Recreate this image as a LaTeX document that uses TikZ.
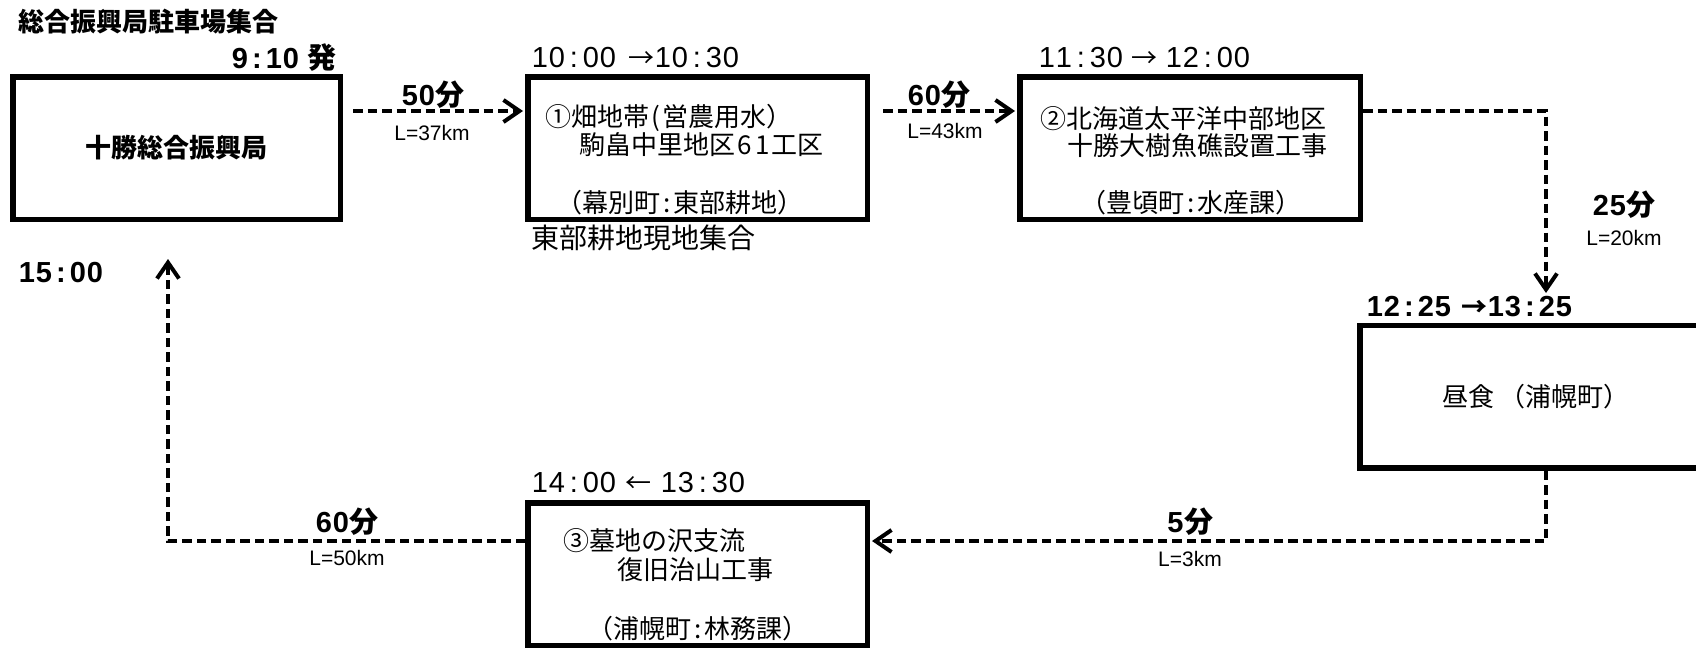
\documentclass[tikz,border=0pt]{standalone}
\usepackage{fontspec}
\setmainfont{Noto Sans CJK JP}
\newfontfamily\cjk{Noto Sans CJK JP}
\newfontfamily\lat{Liberation Sans}
\usetikzlibrary{arrows.meta}
\makeatletter
\newcommand\cellrow[2]{\@tfor\rsk@c:=#2\do{\makebox[#1][c]{\rsk@c}}}
\makeatother
\newcommand\tm[1]{\cellrow{8.5pt}{#1}}
\newcommand\ra{{\cjk\fontsize{13pt}{15pt}\selectfont →}}
\newcommand\la{{\cjk\fontsize{13pt}{15pt}\selectfont ←}}
\newcommand\km[1]{{\lat\fontsize{10.5pt}{12pt}\selectfont #1}}
\tikzset{
 box/.style={draw, line width=2.75pt, rectangle, inner sep=0pt},
 conn/.style={line width=1.65pt, dash pattern=on 4.75pt off 2.5pt,
   -{Straight Barb[length=8pt,width=11pt,line width=2pt]}, shorten >=1pt},
 txt/.style={inner sep=0pt, anchor=west, font=\cjk\fontsize{13pt}{15pt}\selectfont},
 tim/.style={inner sep=0pt, anchor=west, font=\lat\fontsize{14.5pt}{17pt}\selectfont},
 timb/.style={tim, font=\lat\bfseries\fontsize{14.5pt}{17pt}\selectfont},
 dur/.style={inner sep=0pt, font=\lat\bfseries\fontsize{14.5pt}{17pt}\selectfont},
 dist/.style={inner sep=0pt},
}
\begin{document}
\begin{tikzpicture}[x=0.5pt,y=-0.5pt]
\useasboundingbox (0,0) rectangle (1696,648);
\clip (0,0) rectangle (1696,648);
% boxes
\node[box, minimum width=163.75pt, minimum height=71.25pt,
  font=\cjk\bfseries\fontsize{13pt}{15pt}\selectfont] (b1) at (176.5,148) {十勝総合振興局};
\node[box, minimum width=169.75pt, minimum height=71.25pt] (b2) at (697.5,148) {};
\node[box, minimum width=170.25pt, minimum height=71.25pt] (b3) at (1190,148) {};
\node[box, minimum width=169.25pt, minimum height=71.25pt] (b4) at (1529,396.5) {};
\node[box, minimum width=169.75pt, minimum height=71.25pt] (b5) at (697.5,574) {};
% headings
\node[txt, font=\cjk\bfseries\fontsize{13pt}{15pt}\selectfont] (title) at (18,22) {総合振興局駐車場集合};
\node[timb] (t1) at (231,58) {\tm{9:10}\hspace{4pt}{\cjk 発}};
\node[tim] (t2) at (531,58) {\tm{10:00}\hspace{6pt}\ra\tm{10:30}};
\node[tim] (t3) at (1038,58) {\tm{11:30}\hspace{4pt}\ra\hspace{4pt}\tm{12:00}};
\node[timb] (t4) at (1366,307) {\tm{12:25}\hspace{5pt}\ra\tm{13:25}};
\node[tim] (t5) at (531,483) {\tm{14:00}\hspace{4.5pt}\la\hspace{4.5pt}\tm{13:30}};
\node[timb] (t6) at (18,273) {\tm{15:00}};
\node[txt, font=\cjk\fontsize{14pt}{16pt}\selectfont] (meet) at (531,238) {東部耕地現地集合};
% box texts
\node[txt] (b2a) at (545,118) {①畑地帯\makebox[6.5pt]{(}営農用水）};
\node[txt] (b2b) at (579,145) {駒畠中里地区\cellrow{9pt}{61}工区};
\node[txt] (b2c) at (556,203) {（幕別町\makebox[6.5pt]{:}東部耕地）};
\node[txt] (b3a) at (1040,119) {②北海道太平洋中部地区};
\node[txt] (b3b) at (1067,146) {十勝大樹魚礁設置工事};
\node[txt] (b3c) at (1080,203) {（豊頃町\makebox[6.5pt]{:}水産課）};
\node[txt, anchor=center] (b4t) at (1536,397) {昼食 （浦幌町）};
\node[txt] (b5a) at (563,541) {③墓地の沢支流};
\node[txt] (b5b) at (617,570) {復旧治山工事};
\node[txt] (b5c) at (587,629) {（浦幌町\makebox[6.5pt]{:}林務課）};
% connector labels
\node[dur] (d1) at (433,95) {\tm{50}{\cjk 分}};
\node[dist] (k1) at (432,133) {\km{L=37km}};
\node[dur] (d2) at (939,95) {\tm{60}{\cjk 分}};
\node[dist] (k2) at (945,131) {\km{L=43km}};
\node[dur] (d3) at (1624,205) {\tm{25}{\cjk 分}};
\node[dist] (k3) at (1624,238) {\km{L=20km}};
\node[dur] (d4) at (1190,522) {\tm{5}{\cjk 分}};
\node[dist] (k4) at (1190,559) {\km{L=3km}};
\node[dur] (d5) at (347,522) {\tm{60}{\cjk 分}};
\node[dist] (k5) at (347,558) {\km{L=50km}};
% routing coordinates
\coordinate (row1) at (0,111);
\coordinate (row2) at (0,541);
\coordinate (xr) at (1546,0);
\coordinate (c25) at (1546,295);
\coordinate (c15) at (168,257);
% connectors
\draw[conn, shorten <=5pt] (b1.east |- row1) -- (b2.west |- row1);
\draw[conn, shorten <=6.5pt] (b2.east |- row1) -- (b3.west |- row1);
\draw[conn] (b3.east |- row1) -| (c25);
\draw[conn] (b4.south -| xr) |- (b5.east |- row2);
\draw[conn] (b5.west |- row2) -| (c15);
\end{tikzpicture}
\end{document}
